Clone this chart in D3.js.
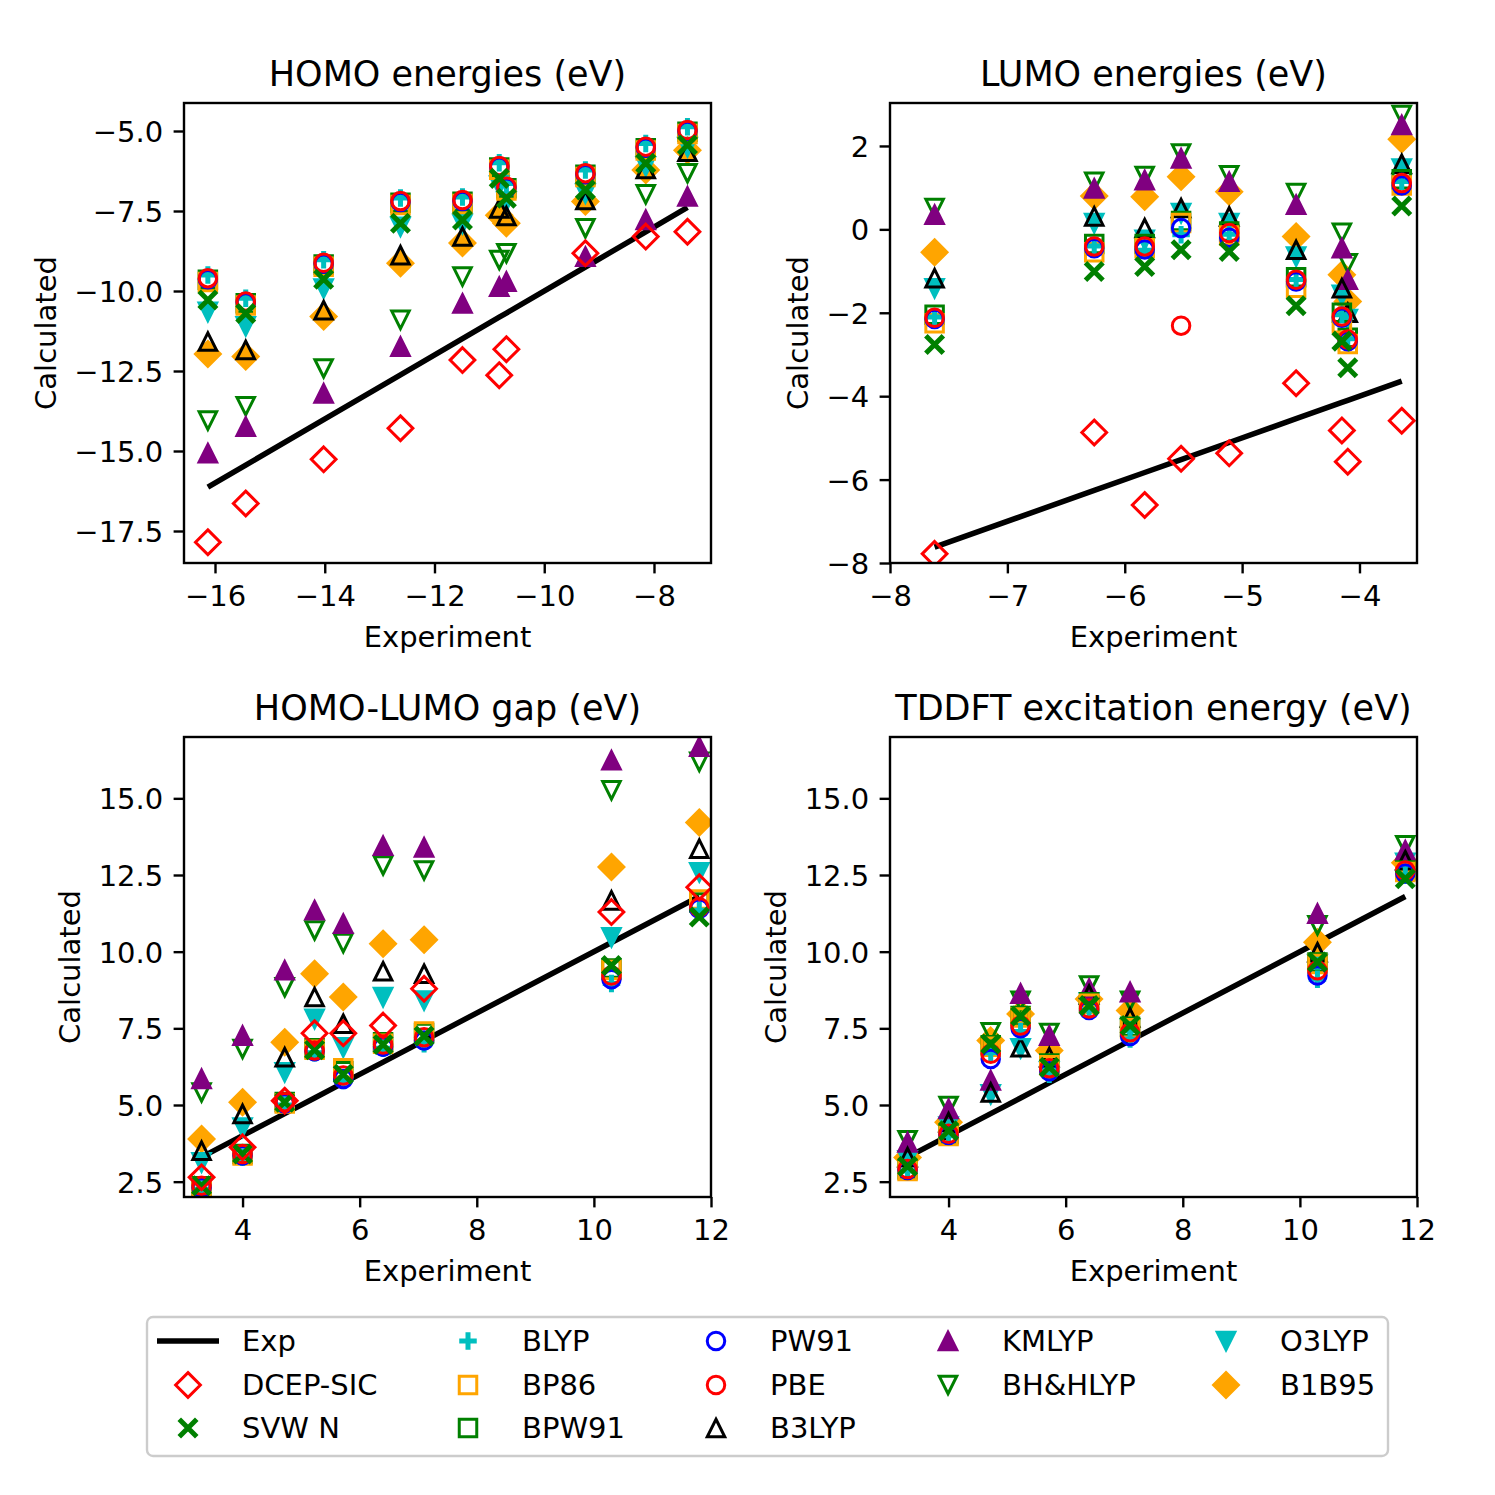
<!DOCTYPE html>
<html>
<head>
<meta charset="utf-8">
<script src="https://d3js.org/d3.v7.min.js"></script>
<style>
  body { margin: 0; background: #fff; }
  text { font-family: "DejaVu Sans", sans-serif; fill: #000; }
</style>
</head>
<body>
<div id="chart-area"></div>
<script>
// ---- experiment values (x axis) ----
var homoExp = [-16.13, -15.44, -14.02, -12.62, -11.49, -10.82, -10.69, -9.25, -8.15, -7.39];
var lumoExp = [-7.62, -6.26, -5.83, -5.52, -5.11, -4.54, -4.15, -4.10, -3.64];
var gapExp  = [3.30, 4.00, 4.72, 5.23, 5.72, 6.40, 7.10, 10.30, 11.80];
var tddftExp = [3.30, 4.00, 4.72, 5.23, 5.72, 6.40, 7.10, 10.30, 11.80];

// ---- HOMO energies ----
var homoDCEP   = [-17.85, -16.64, -15.26, -14.29, -12.16, -12.63, -11.82, -8.82, -8.30, -8.15];
var homoSVWN   = [-10.28, -10.70, -9.63, -7.88, -7.78, -6.48, -7.10, -6.84, -6.01, -5.44];
var homoBLYP   = [-9.50, -10.23, -9.02, -7.09, -7.06, -5.99, -6.64, -6.22, -5.39, -4.87];
var homoBP86   = [-9.72, -10.45, -9.24, -7.31, -7.28, -6.21, -6.86, -6.44, -5.61, -5.09];
var homoBPW91  = [-9.65, -10.38, -9.17, -7.24, -7.21, -6.14, -6.79, -6.37, -5.54, -5.02];
var homoPW91   = [-9.63, -10.36, -9.15, -7.22, -7.19, -6.12, -6.77, -6.35, -5.52, -5.00];
var homoPBE    = [-9.60, -10.33, -9.12, -7.19, -7.16, -6.09, -6.74, -6.32, -5.49, -4.97];
var homoB3LYP  = [-11.58, -11.84, -10.60, -8.88, -8.30, -7.42, -7.66, -7.16, -6.19, -5.65];
var homoKMLYP  = [-15.07, -14.24, -13.20, -11.74, -10.39, -9.87, -9.71, -8.93, -7.78, -7.05];
var homoBHH    = [-14.05, -13.60, -12.42, -10.90, -9.55, -9.03, -8.82, -8.04, -6.98, -6.32];
var homoO3LYP  = [-10.65, -11.10, -9.92, -7.99, -7.90, -6.70, -7.20, -6.95, -6.10, -5.50];
var homoB1B95  = [-11.97, -12.05, -10.80, -9.13, -8.50, -7.63, -7.88, -7.20, -6.22, -5.60];

// ---- LUMO energies ----
var lumoDCEP   = [-7.78, -4.87, -6.61, -5.50, -5.37, -3.69, -4.82, -5.57, -4.59];
var lumoSVWN   = [-2.76, -1.01, -0.89, -0.49, -0.53, -1.83, -2.68, -3.32, 0.56];
var lumoBLYP   = [-2.10, -0.40, -0.50, -0.13, -0.12, -1.20, -2.05, -2.62, 1.15];
var lumoBP86   = [-2.25, -0.55, -0.45, 0.15, -0.15, -1.40, -2.25, -2.75, 1.05];
var lumoBPW91  = [-2.05, -0.35, -0.35, 0.20, -0.05, -1.15, -2.00, -2.60, 1.20];
var lumoPW91   = [-2.15, -0.45, -0.48, 0.03, -0.20, -1.25, -2.12, -2.68, 1.05];
var lumoPBE    = [-2.12, -0.41, -0.41, -2.31, -0.09, -1.21, -2.09, -2.64, 1.11];
var lumoB3LYP  = [-1.17, 0.31, 0.03, 0.51, 0.31, -0.49, -1.41, -2.00, 1.57];
var lumoKMLYP  = [0.35, 0.98, 1.18, 1.70, 1.14, 0.59, -0.45, -1.21, 2.50];
var lumoBHH    = [0.51, 1.14, 1.28, 1.82, 1.30, 0.87, -0.08, -0.81, 2.74];
var lumoO3LYP  = [-1.41, 0.15, -0.25, 0.39, 0.15, -0.65, -1.57, -2.15, 1.46];
var lumoB1B95  = [-0.55, 0.80, 0.78, 1.26, 0.90, -0.17, -1.09, -1.73, 2.16];

// ---- HOMO-LUMO gap ----
var gapDCEP    = [2.64, 3.62, 5.14, 7.34, 7.34, 7.59, 8.79, 11.29, 12.10];
var gapSVWN    = [2.37, 3.40, 5.09, 6.80, 6.00, 6.97, 7.25, 9.55, 11.13];
var gapBLYP    = [2.25, 3.30, 5.00, 6.70, 5.80, 6.85, 7.00, 8.96, 11.35];
var gapBP86    = [2.30, 3.35, 5.05, 6.80, 6.20, 7.00, 7.40, 9.40, 11.70];
var gapBPW91   = [2.35, 3.40, 5.10, 6.85, 6.10, 7.05, 7.35, 9.45, 11.60];
var gapPW91    = [2.30, 3.35, 5.05, 6.75, 5.85, 6.90, 7.10, 9.10, 11.40];
var gapPBE     = [2.37, 3.40, 5.09, 6.78, 5.96, 6.97, 7.21, 9.22, 11.45];
var gapB3LYP   = [3.51, 4.71, 6.56, 8.52, 7.65, 9.36, 9.28, 11.67, 13.36];
var gapKMLYP   = [5.85, 7.26, 9.39, 11.35, 10.91, 13.45, 13.40, 16.24, 16.68];
var gapBHH     = [5.41, 6.83, 8.84, 10.69, 10.28, 12.81, 12.65, 15.26, 16.19];
var gapO3LYP   = [3.13, 4.27, 6.07, 7.81, 6.88, 8.52, 8.41, 10.47, 12.59];
var gapB1B95   = [3.89, 5.09, 7.05, 9.28, 8.52, 10.26, 10.39, 12.76, 14.21];

// ---- TDDFT excitation energy (no DCEP-SIC values) ----
var tdSVWN     = [3.00, 4.16, 6.99, 7.90, 6.23, 8.24, 7.59, 9.66, 12.38];
var tdBLYP     = [2.85, 4.00, 6.70, 7.40, 6.00, 8.10, 7.15, 9.10, 12.50];
var tdBP86     = [2.85, 3.99, 6.90, 7.85, 6.30, 8.30, 7.50, 9.60, 12.60];
var tdBPW91    = [2.90, 4.05, 6.95, 7.90, 6.35, 8.35, 7.55, 9.65, 12.65];
var tdPW91     = [2.88, 4.02, 6.50, 7.50, 6.10, 8.10, 7.25, 9.22, 12.55];
var tdPBE      = [2.91, 4.06, 6.67, 7.59, 6.20, 8.15, 7.37, 9.39, 12.65];
var tdB3LYP    = [3.30, 4.44, 5.41, 6.88, 6.56, 8.60, 7.85, 9.98, 12.98];
var tdKMLYP    = [3.78, 4.87, 5.80, 8.63, 7.26, 8.79, 8.68, 11.24, 13.30];
var tdBHH      = [3.85, 4.97, 7.37, 8.40, 7.35, 8.90, 8.40, 10.86, 13.47];
var tdO3LYP    = [3.20, 4.30, 5.35, 6.85, 6.10, 8.35, 7.50, 9.60, 12.90];
var tdB1B95    = [3.29, 4.44, 7.10, 7.97, 6.78, 8.46, 8.08, 10.31, 12.90];

// tick values
var homoXTicks = [-16, -14, -12, -10, -8];
var homoYTicks = [-17.5, -15, -12.5, -10, -7.5, -5];
var lumoXTicks = [-8, -7, -6, -5, -4];
var lumoYTicks = [-8, -6, -4, -2, 0, 2];
var gapXTicks  = [4, 6, 8, 10, 12];
var gapYTicks  = [2.5, 5, 7.5, 10, 12.5, 15];

// ---- styles ----
var legendOrder = ["Exp", "DCEP-SIC", "SVW N", "BLYP", "BP86", "BPW91", "PW91", "PBE",
                   "B3LYP", "KMLYP", "BH&HLYP", "O3LYP", "B1B95"];
var drawOrder = ["B1B95", "O3LYP", "BH&HLYP", "KMLYP", "B3LYP", "BPW91", "BP86",
                 "BLYP", "PW91", "PBE", "SVW N", "DCEP-SIC"];
var styles = {
  "DCEP-SIC": { m: "D", c: "red",    fill: false },
  "SVW N":    { m: "x", c: "green",  fill: false },
  "BLYP":     { m: "+", c: "#00bfbf", fill: false },
  "BP86":     { m: "s", c: "orange", fill: false },
  "BPW91":    { m: "s", c: "green",  fill: false },
  "PW91":     { m: "o", c: "blue",   fill: false },
  "PBE":      { m: "o", c: "red",    fill: false },
  "B3LYP":    { m: "^", c: "black",  fill: false },
  "KMLYP":    { m: "^", c: "purple", fill: true },
  "BH&HLYP":  { m: "v", c: "green",  fill: false },
  "O3LYP":    { m: "v", c: "#00bfbf", fill: true },
  "B1B95":    { m: "D", c: "orange", fill: true }
};

var W = 1495, H = 1495;
var pw = 527, ph = 460;
var ms = 17.5;      // marker size (px)
var mew = 3;        // marker edge width

var panels = [
  { title: "HOMO energies (eV)", left: 184, top: 103, exp: homoExp, ylab: -128,
    xd: [-16.565, -6.961], yd: [-18.5, -4.125], xt: homoXTicks, yt: homoYTicks,
    xf: d3.format("d"), yf: d3.format(".1f"),
    calc: { "DCEP-SIC": homoDCEP, "SVW N": homoSVWN, "BLYP": homoBLYP, "BP86": homoBP86,
            "BPW91": homoBPW91, "PW91": homoPW91, "PBE": homoPBE, "B3LYP": homoB3LYP,
            "KMLYP": homoKMLYP, "BH&HLYP": homoBHH, "O3LYP": homoO3LYP, "B1B95": homoB1B95 } },
  { title: "LUMO energies (eV)", left: 890, top: 103, exp: lumoExp, ylab: -82,
    xd: [-8, -3.51], yd: [-8, 3.03], xt: lumoXTicks, yt: lumoYTicks,
    xf: d3.format("d"), yf: d3.format("d"),
    calc: { "DCEP-SIC": lumoDCEP, "SVW N": lumoSVWN, "BLYP": lumoBLYP, "BP86": lumoBP86,
            "BPW91": lumoBPW91, "PW91": lumoPW91, "PBE": lumoPBE, "B3LYP": lumoB3LYP,
            "KMLYP": lumoKMLYP, "BH&HLYP": lumoBHH, "O3LYP": lumoO3LYP, "B1B95": lumoB1B95 } },
  { title: "HOMO-LUMO gap (eV)", left: 184, top: 737, exp: gapExp, ylab: -104,
    xd: [3, 12], yd: [2, 17], xt: gapXTicks, yt: gapYTicks,
    xf: d3.format("d"), yf: d3.format(".1f"),
    calc: { "DCEP-SIC": gapDCEP, "SVW N": gapSVWN, "BLYP": gapBLYP, "BP86": gapBP86,
            "BPW91": gapBPW91, "PW91": gapPW91, "PBE": gapPBE, "B3LYP": gapB3LYP,
            "KMLYP": gapKMLYP, "BH&HLYP": gapBHH, "O3LYP": gapO3LYP, "B1B95": gapB1B95 } },
  { title: "TDDFT excitation energy (eV)", left: 890, top: 737, exp: tddftExp, ylab: -104,
    xd: [3, 12], yd: [2, 17], xt: gapXTicks, yt: gapYTicks,
    xf: d3.format("d"), yf: d3.format(".1f"),
    calc: { "SVW N": tdSVWN, "BLYP": tdBLYP, "BP86": tdBP86,
            "BPW91": tdBPW91, "PW91": tdPW91, "PBE": tdPBE, "B3LYP": tdB3LYP,
            "KMLYP": tdKMLYP, "BH&HLYP": tdBHH, "O3LYP": tdO3LYP, "B1B95": tdB1B95 } }
];

function markerPath(m, s) {
  var h = s / 2;
  switch (m) {
    case "D":
      var d = s * Math.SQRT1_2;
      return "M0," + (-d) + "L" + d + ",0L0," + d + "L" + (-d) + ",0Z";
    case "s":
      return "M" + (-h) + "," + (-h) + "H" + h + "V" + h + "H" + (-h) + "Z";
    case "o":
      return "M" + h + ",0A" + h + "," + h + " 0 1,1 " + (-h) + ",0A" + h + "," + h + " 0 1,1 " + h + ",0Z";
    case "^":
      return "M0," + (-h) + "L" + h + "," + h + "L" + (-h) + "," + h + "Z";
    case "v":
      return "M0," + h + "L" + h + "," + (-h) + "L" + (-h) + "," + (-h) + "Z";
    case "+":
      return "M" + (-h) + ",0H" + h + "M0," + (-h) + "V" + h;
    case "x":
      return "M" + (-h) + "," + (-h) + "L" + h + "," + h + "M" + (-h) + "," + h + "L" + h + "," + (-h);
  }
}

function styleMarker(sel, st) {
  sel.attr("d", markerPath(st.m, ms))
     .attr("stroke", st.c)
     .attr("fill", st.fill ? st.c : "none")
     .attr("stroke-width", (st.m === "x" || st.m === "+") ? 5 : mew)
     .attr("stroke-linejoin", "miter")
     .attr("stroke-linecap", "butt");
}

var svg = d3.select("#chart-area")
  .append("svg")
    .attr("width", W)
    .attr("height", H);

svg.append("rect").attr("width", W).attr("height", H).attr("fill", "#fff");

panels.forEach(function (p, i) {
  var x = d3.scaleLinear().domain(p.xd).range([0, pw]);
  var y = d3.scaleLinear().domain(p.yd).range([ph, 0]);

  var g = svg.append("g")
    .attr("transform", "translate(" + p.left + "," + p.top + ")");

  g.append("clipPath").attr("id", "clip" + i)
    .append("rect").attr("width", pw).attr("height", ph);

  var plot = g.append("g").attr("clip-path", "url(#clip" + i + ")");

  // Exp line (y = x)
  var line = d3.line()
    .x(function (d) { return x(d); })
    .y(function (d) { return y(d); });
  plot.append("path")
    .datum(p.exp)
    .attr("d", line)
    .attr("fill", "none")
    .attr("stroke", "black")
    .attr("stroke-width", 5.5);

  // marker series
  drawOrder.forEach(function (name) {
    var vals = p.calc[name];
    if (!vals) return;
    var st = styles[name];
    plot.append("g").selectAll("path")
      .data(vals)
      .enter()
      .append("path")
        .attr("transform", function (d, j) { return "translate(" + x(p.exp[j]) + "," + y(d) + ")"; })
        .call(styleMarker, st);
  });

  // axes
  var xAxis = d3.axisBottom(x).tickValues(p.xt).tickFormat(p.xf)
    .tickSize(10.4).tickPadding(10.4);
  var yAxis = d3.axisLeft(y).tickValues(p.yt).tickFormat(p.yf)
    .tickSize(10.4).tickPadding(10.4);

  var xg = g.append("g").attr("transform", "translate(0," + ph + ")").call(xAxis);
  var yg = g.append("g").call(yAxis);
  [xg, yg].forEach(function (a) {
    a.select(".domain").remove();
    a.attr("font-family", "DejaVu Sans").attr("font-size", 29);
    a.selectAll("line").attr("stroke", "black").attr("stroke-width", 2.4);
    a.selectAll("text").attr("fill", "black");
  });
  xg.selectAll("text").attr("dy", "0.76em");
  yg.selectAll("text").attr("dy", "0.36em");

  // frame
  g.append("rect")
    .attr("width", pw).attr("height", ph)
    .attr("fill", "none").attr("stroke", "black").attr("stroke-width", 2.4);

  // title
  g.append("text")
    .attr("x", pw / 2)
    .attr("y", -17)
    .attr("font-size", 35)
    .attr("text-anchor", "middle")
    .text(p.title);

  // X label
  g.append("text")
    .attr("x", pw / 2)
    .attr("y", ph + 84)
    .attr("font-size", 29)
    .attr("text-anchor", "middle")
    .text("Experiment");

  // Y label
  g.append("text")
    .attr("x", -ph / 2)
    .attr("y", p.ylab)
    .attr("font-size", 29)
    .attr("text-anchor", "middle")
    .attr("transform", "rotate(-90)")
    .text("Calculated");
});

// ---- legend ----
var lg = svg.append("g");
lg.append("rect")
  .attr("x", 147).attr("y", 1317)
  .attr("width", 1241).attr("height", 139)
  .attr("rx", 6)
  .attr("fill", "white")
  .attr("stroke", "#cccccc")
  .attr("stroke-width", 2.4);

var legendCols = [188, 468, 716, 948, 1226];
var legendRows = [1341, 1385, 1428];
var perCol = [3, 3, 3, 2, 2];

var k = 0;
perCol.forEach(function (n, c) {
  for (var r = 0; r < n; r++) {
    var name = legendOrder[k++];
    var cx = legendCols[c], cy = legendRows[r];
    if (name === "Exp") {
      lg.append("line")
        .attr("x1", cx - 31).attr("x2", cx + 31)
        .attr("y1", cy).attr("y2", cy)
        .attr("stroke", "black").attr("stroke-width", 5.5);
    } else {
      lg.append("path")
        .attr("transform", "translate(" + cx + "," + cy + ")")
        .call(styleMarker, styles[name]);
    }
    lg.append("text")
      .attr("x", cx + 54)
      .attr("y", cy)
      .attr("dy", "0.36em")
      .attr("font-size", 29)
      .text(name);
  }
});
</script>
</body>
</html>
